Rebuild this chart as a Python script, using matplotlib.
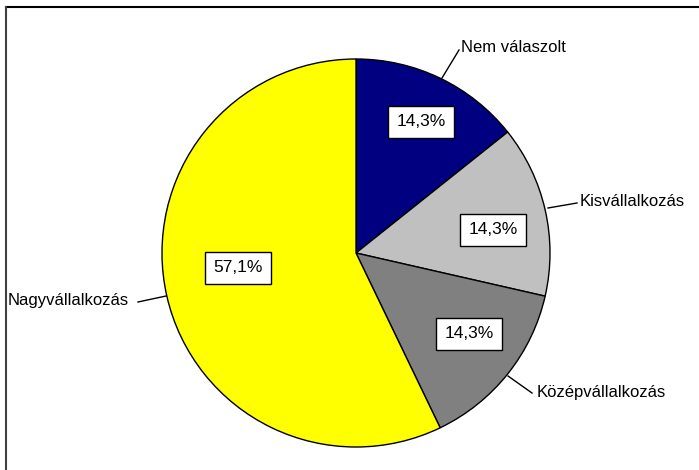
import matplotlib.pyplot as plt

plt.rcParams['font.family'] = ['Liberation Sans', 'DejaVu Sans']

categories = ["Nem válaszolt", "Kisvállalkozás", "Középvállalkozás", "Nagyvállalkozás"]
values = [1, 1, 1, 4]
pct_labels = ["14,3%", "14,3%", "14,3%", "57,1%"]
colors = ["#000080", "#C0C0C0", "#808080", "#FFFF00"]

W, H = 699, 470
fig = plt.figure(figsize=(W / 100, H / 100), dpi=100)
ax = fig.add_axes([0, 0, 1, 1])


def py(y):
    # pixel row -> data y
    return H - y


cx, cy, r = 356, py(253), 194
ax.pie(values, colors=colors, startangle=90, counterclock=False,
       center=(cx, cy), radius=r, frame=True,
       wedgeprops=dict(edgecolor="black", linewidth=1.0))
ax.set_xlim(0, W)
ax.set_ylim(0, H)
ax.set_aspect("equal")
ax.axis("off")

# percentage boxes (pixel centres)
pct_pos = [(421, 122), (493, 230), (469, 334), (238, 268)]
for (x, y), t in zip(pct_pos, pct_labels):
    ax.text(x, py(y), t, ha="center", va="center", fontsize=12.5,
            bbox=dict(boxstyle="square,pad=0.5", fc="white", ec="black", lw=1))

# category labels with leader lines: (line start, line end, text pos, ha)
leaders = [
    ((442, 78), (459, 50), (461, 48), "left"),
    ((548, 208), (577, 203), (580, 201), "left"),
    ((508, 376), (532, 393), (537, 392), "left"),
    ((166, 296), (138, 302), (129, 301), "right"),
]
for cat, (p0, p1, tp, ha) in zip(categories, leaders):
    ax.plot([p0[0], p1[0]], [py(p0[1]), py(p1[1])], color="black", lw=1)
    ax.text(tp[0], py(tp[1]), cat, ha=ha, va="center", fontsize=12)

# frame (only top and left edges visible)
ax.plot([6, W], [py(7), py(7)], color="black", lw=1.5, clip_on=False)
ax.plot([6, 6], [py(7), 0], color="#404040", lw=1.5, clip_on=False)

fig.savefig("out.png", dpi=100)
